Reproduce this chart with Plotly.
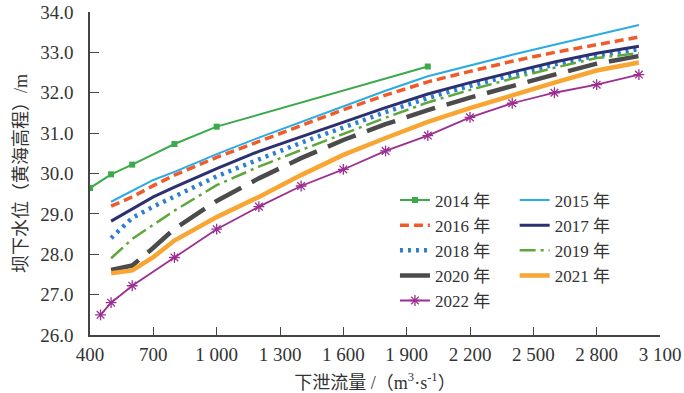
import plotly.graph_objects as go

# ---------------- data ----------------
x_2014 = [400, 500, 600, 800, 1000, 2000]
y_2014 = [29.64, 29.98, 30.22, 30.73, 31.16, 32.65]

x_common = [500, 600, 700, 800, 1000, 1200, 1400, 1600, 1800, 2000, 2200, 2400, 2600, 2800, 3000]
y_2015 = [29.30, 29.58, 29.84, 30.04, 30.48, 30.89, 31.28, 31.67, 32.05, 32.41, 32.68, 32.94, 33.19, 33.43, 33.68]
y_2016 = [29.19, 29.42, 29.70, 29.96, 30.40, 30.80, 31.18, 31.58, 31.94, 32.27, 32.53, 32.78, 33.00, 33.20, 33.38]
y_2017 = [28.82, 29.13, 29.42, 29.66, 30.12, 30.55, 30.91, 31.26, 31.63, 31.97, 32.25, 32.51, 32.76, 32.98, 33.15]
y_2018 = [28.40, 28.90, 29.18, 29.42, 29.93, 30.35, 30.76, 31.14, 31.52, 31.87, 32.17, 32.44, 32.70, 32.92, 33.08]
y_2019 = [27.90, 28.38, 28.73, 29.08, 29.71, 30.17, 30.58, 30.98, 31.38, 31.76, 32.07, 32.35, 32.62, 32.86, 32.98]
y_2020 = [27.61, 27.72, 28.16, 28.63, 29.32, 29.88, 30.38, 30.83, 31.22, 31.57, 31.88, 32.17, 32.45, 32.72, 32.91]
y_2021 = [27.53, 27.60, 27.93, 28.34, 28.92, 29.42, 29.96, 30.46, 30.88, 31.28, 31.62, 31.94, 32.25, 32.55, 32.75]

x_2022 = [450, 500, 600, 800, 1000, 1200, 1400, 1600, 1800, 2000, 2200, 2400, 2600, 2800, 3000]
y_2022 = [26.50, 26.80, 27.22, 27.92, 28.62, 29.18, 29.69, 30.10, 30.56, 30.94, 31.39, 31.74, 32.00, 32.20, 32.45]

x_ticks = [400, 700, 1000, 1300, 1600, 1900, 2200, 2500, 2800, 3100]
y_ticks = [26, 27, 28, 29, 30, 31, 32, 33, 34]

FONT = "Liberation Serif, Noto Sans CJK SC, serif"
TXT = "#333333"

fig = go.Figure()

# column 1 legend entries
fig.add_trace(go.Scatter(x=x_2014, y=y_2014, name="2014 年", mode="lines+markers",
                         line=dict(color="#3BAA4B", width=2),
                         marker=dict(symbol="square", size=6, color="#3BAA4B"),
                         legend="legend"))
fig.add_trace(go.Scatter(x=x_common, y=y_2016, name="2016 年", mode="lines",
                         line=dict(color="#EF5B2B", width=3.5, dash="9px,5px"),
                         legend="legend"))
fig.add_trace(go.Scatter(x=x_common, y=y_2018, name="2018 年", mode="lines",
                         line=dict(color="#2C7ED3", width=4.5, dash="3px,5px"),
                         legend="legend"))
fig.add_trace(go.Scatter(x=x_common, y=y_2020, name="2020 年", mode="lines",
                         line=dict(color="#4B4B4B", width=4.5, dash="30px,12px"),
                         legend="legend"))
fig.add_trace(go.Scatter(x=x_2022, y=y_2022, name="2022 年", mode="lines+markers",
                         line=dict(color="#9C2F91", width=1.8),
                         marker=dict(symbol="asterisk-open", size=9,
                                     line=dict(color="#9C2F91", width=1.3)),
                         legend="legend"))

# column 2 legend entries
fig.add_trace(go.Scatter(x=x_common, y=y_2015, name="2015 年", mode="lines",
                         line=dict(color="#2AABE2", width=2),
                         legend="legend2"))
fig.add_trace(go.Scatter(x=x_common, y=y_2017, name="2017 年", mode="lines",
                         line=dict(color="#2C306F", width=3),
                         legend="legend2"))
fig.add_trace(go.Scatter(x=x_common, y=y_2019, name="2019 年", mode="lines",
                         line=dict(color="#5DA73B", width=2.5, dash="16px,5px,3px,5px"),
                         legend="legend2"))
fig.add_trace(go.Scatter(x=x_common, y=y_2021, name="2021 年", mode="lines",
                         line=dict(color="#F8A534", width=4.5),
                         legend="legend2"))

legend_common = dict(
    bgcolor="rgba(0,0,0,0)", borderwidth=0,
    font=dict(family=FONT, size=17, color=TXT),
    orientation="v", xanchor="left", yanchor="top",
    tracegroupgap=0, itemwidth=30,
)

fig.update_layout(
    width=684, height=393,
    margin=dict(l=90, r=24, t=12, b=58, autoexpand=False),
    paper_bgcolor="white", plot_bgcolor="white",
    font=dict(family=FONT, size=18, color=TXT),
    separators=". ",
    showlegend=True,
    legend=dict(x=0.535, y=0.472, **legend_common),
    legend2=dict(x=0.745, y=0.472, **legend_common),
    xaxis=dict(
        range=[400, 3100], tickvals=x_ticks, tickformat=",d",
        ticks="inside", ticklen=8, tickwidth=1.3, tickcolor="#444",
        showline=True, linecolor="#444", linewidth=1.5,
        showgrid=False, zeroline=False, automargin=False,
        ticklabeloverflow="allow",
        tickfont=dict(family=FONT, size=19, color=TXT),
        ticklabelstandoff=1,
        title=dict(text="下泄流量 /（m<sup>3</sup>·s<sup>-1</sup>）",
                   font=dict(family=FONT, size=18, color=TXT), standoff=18),
    ),
    yaxis=dict(
        range=[26, 34], tickvals=y_ticks, tickformat=".1f",
        ticks="inside", ticklen=9, tickwidth=1.3, tickcolor="#444",
        showline=True, linecolor="#444", linewidth=1.5,
        showgrid=False, zeroline=False, automargin=False,
        ticklabeloverflow="allow",
        tickfont=dict(family=FONT, size=19, color=TXT),
        ticklabelstandoff=11,
        title=dict(text="坝下水位（黄海高程）/m",
                   font=dict(family=FONT, size=18, color=TXT), standoff=8),
    ),
)

# remove the default page margin so the figure sits at the window's top-left corner
fig.write_html("out.html",
               config={"displayModeBar": False},
               post_script="document.body.style.margin='0';")
